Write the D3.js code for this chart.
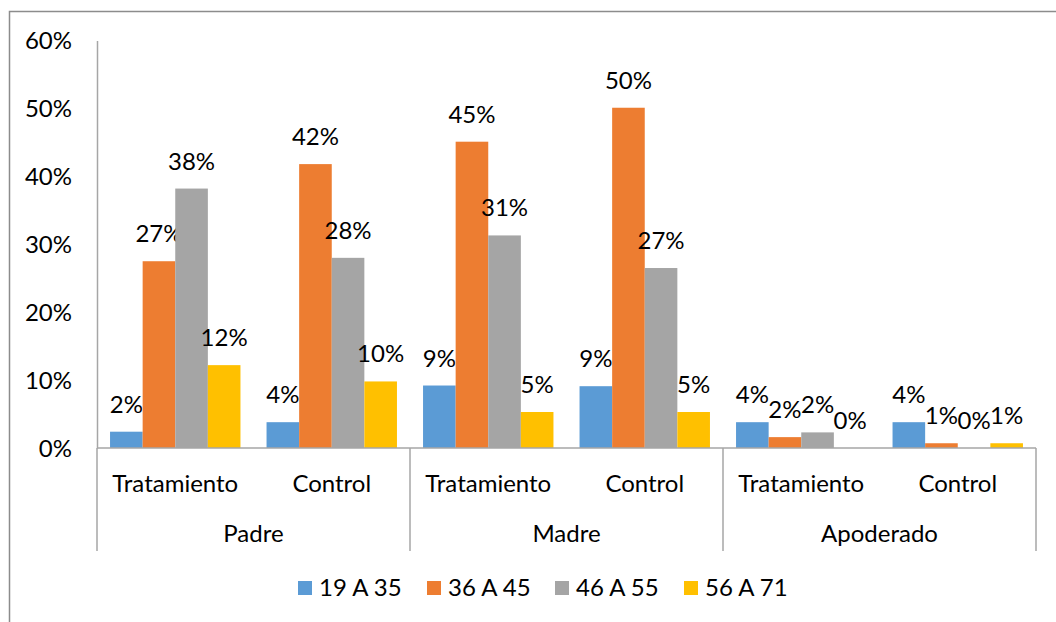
<!DOCTYPE html>
<html><head><meta charset="utf-8">
<script src="https://cdn.jsdelivr.net/npm/d3@7"></script>
<style>body{margin:0;background:#fff;} text{font-family:Lato,"Open Sans",sans-serif;fill:#000;}</style>
</head><body>
<svg id="c" width="1056" height="622"></svg>
<script>
const groups = ["Padre","Madre","Apoderado"];
const subgroups = ["Tratamiento","Control"];
const seriesNames = ["19 A 35","36 A 45","46 A 55","56 A 71"];
const seriesColors = ["#5B9BD5","#ED7D31","#A5A5A5","#FFC000"];
// values (%) per series, order: Padre-Trat, Padre-Ctrl, Madre-Trat, Madre-Ctrl, Apod-Trat, Apod-Ctrl
const s19a35 = [2.4, 3.8, 9.2, 9.1, 3.8, 3.8];
const s36a45 = [27.5, 41.8, 45.1, 50.1, 1.6, 0.7];
const s46a55 = [38.2, 28.0, 31.3, 26.5, 2.3, 0];
const s56a71 = [12.2, 9.8, 5.3, 5.3, 0, 0.7];
const valueLabels = [
  ["2%","4%","9%","9%","4%","4%"],
  ["27%","42%","45%","50%","2%","1%"],
  ["38%","28%","31%","27%","2%","0%"],
  ["12%","10%","5%","5%","0%","1%"]
];
const yTicks = [0,10,20,30,40,50,60];
const seriesValues = [s19a35, s36a45, s46a55, s56a71];

const svg = d3.select("#c");
const L = 97, R = 1036, T = 40.5, B = 448;
const fs = 24;

// outer border (top + left visible)
svg.append("path").attr("d","M9.5,622 L9.5,11.5 L1056,11.5").attr("fill","none").attr("stroke","#8c8c8c").attr("stroke-width",1.5);

const y = d3.scaleLinear().domain([0,60]).range([B,T]);
const xg = d3.scaleBand().domain(groups).range([L,R]);
const xs = d3.scaleBand().domain(subgroups).range([0,xg.bandwidth()]);
const xb = d3.scaleBand().domain(d3.range(4)).range([0,xs.bandwidth()]).paddingOuter(0.4).paddingInner(0);

// y axis
const yAxis = d3.axisLeft(y).tickValues(yTicks).tickFormat(d=>d+"%").tickSize(0).tickPadding(25);
const ya = svg.append("g").attr("transform",`translate(${L},0)`).call(yAxis);
ya.select(".domain").attr("stroke","#a6a6a6").attr("stroke-width",1.5);
ya.selectAll("text").attr("font-size",fs).attr("font-family","Lato").attr("fill","#000").attr("dy","0.35em");

// bars
const cats = [];
groups.forEach(g=>subgroups.forEach(s=>cats.push({g,s})));
seriesValues.forEach((vals,si)=>{
  const gS = svg.append("g");
  cats.forEach((c,ci)=>{
    const x0 = xg(c.g)+xs(c.s)+xb(si);
    const v = vals[ci];
    gS.append("rect").attr("x",x0).attr("y",y(v)).attr("width",xb.bandwidth()).attr("height",B-y(v)).attr("fill",seriesColors[si]);
    gS.append("text").attr("x",x0+xb.bandwidth()/2).attr("y",y(v)-19).attr("text-anchor","middle").attr("font-size",fs).text(valueLabels[si][ci]);
  });
});

// category axis
svg.append("line").attr("x1",L).attr("x2",R).attr("y1",B).attr("y2",B).attr("stroke","#a6a6a6").attr("stroke-width",1.5);
const bounds = groups.map(g=>xg(g)).concat([R]);
bounds.forEach(xv=>{
  svg.append("line").attr("x1",xv).attr("x2",xv).attr("y1",B).attr("y2",551).attr("stroke","#a6a6a6").attr("stroke-width",1.5);
});
cats.forEach(c=>{
  svg.append("text").attr("x",xg(c.g)+xs(c.s)+xs.bandwidth()/2).attr("y",492).attr("text-anchor","middle").attr("font-size",fs).text(c.s);
});
groups.forEach(g=>{
  svg.append("text").attr("x",xg(g)+xg.bandwidth()/2).attr("y",542).attr("text-anchor","middle").attr("font-size",fs).text(g);
});

// legend
const legX = [298,427,555,684];
seriesNames.forEach((n,i)=>{
  svg.append("rect").attr("x",legX[i]).attr("y",581).attr("width",14).attr("height",14).attr("fill",seriesColors[i]);
  svg.append("text").attr("x",legX[i]+21).attr("y",596).attr("font-size",fs).text(n);
});
</script>
</body></html>
